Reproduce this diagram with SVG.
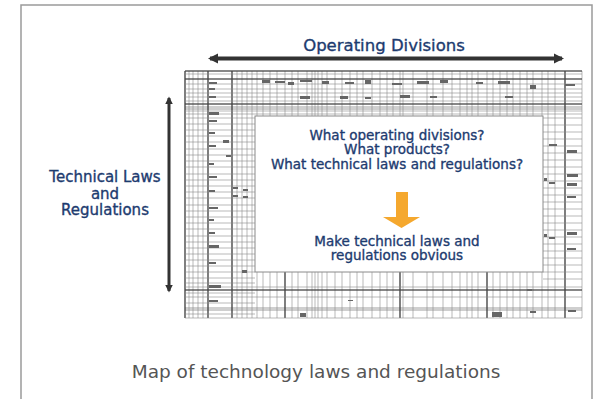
<svg xmlns="http://www.w3.org/2000/svg" width="612" height="399" viewBox="0 0 612 399">
<defs>
<style>
.navy{fill:#1d3b6f;stroke:#1d3b6f;stroke-width:0.35;font-family:"DejaVu Sans","Liberation Sans",sans-serif;text-anchor:middle}
.cap{fill:#555;font-family:"DejaVu Sans","Liberation Sans",sans-serif;text-anchor:middle;font-size:18.5px}
.g{stroke:#8a8a8a;stroke-width:0.6;fill:none}
.gk{stroke:#333;stroke-width:1.1;fill:none}
.bl{fill:#666}
.band{fill:#cfcfcf}
.arr{stroke:#333;fill:none}
</style>
<marker id="ah" viewBox="0 0 10 10" refX="8" refY="5" markerWidth="2.6" markerHeight="2.6" orient="auto-start-reverse" markerUnits="strokeWidth">
<path d="M0,0 L10,5 L0,10 z" fill="#333"/>
</marker>
</defs>
<rect x="0" y="0" width="612" height="399" fill="#fff"/>
<rect x="21" y="5" width="571" height="400" fill="#fff" stroke="#9a9a9a" stroke-width="1.5"/>

<g id="table">
<rect x="185" y="71" width="397" height="247" fill="#fff"/>
<rect class="band" x="185" y="106" width="397" height="4"/>
<rect class="band" x="185" y="307" width="397" height="4"/>
<path class="g" d="M185,71V318M189,71V318M193,71V318M198,71V318M203,71V318M208,71V318M232,71V318M237,71V318M242,71V318M247,71V318M252,71V318M257,71V318M263,71V318M270,71V318M277,71V318M285,71V318M292,71V318M298,71V318M307,71V318M312,71V318M315,71V318M318,71V318M322,71V318M327,71V318M335,71V318M342,71V318M350,71V318M357,71V318M363,71V318M372,71V318M380,71V318M387,71V318M393,71V318M400,71V318M403,71V318M413,71V318M427,71V318M433,71V318M443,71V318M452,71V318M460,71V318M467,71V318M472,71V318M478,71V318M487,71V318M493,71V318M500,71V318M507,71V318M513,71V318M520,71V318M527,71V318M533,71V318M542,71V318M548,71V318M555,71V318M565,71V318M582,71V318"/>
<path class="gk" d="M185,71V318M208,71V318M232,71V318M285,272V318M400,272V318M487,272V318M565,71V318"/>
<path class="g" d="M185,71H582M185,74H582M185,79H582M185,84H582M185,89H582M185,93H582M185,97H582M185,101H582M185,104H582M185,111H582M185,114H582M185,287H582M185,290H582M185,297H582M185,318H582"/>
<path class="gk" d="M185,71H582M185,79H582M185,104H582M185,290H582"/>
<path class="g" d="M185,118H255M185,124H255M185,130H255M185,136H255M185,142H255M185,149H255M185,155H255M185,161H255M185,167H255M185,174H255M185,180H255M185,186H255M185,192H255M185,198H255M185,205H255M185,211H255M185,217H255M185,223H255M185,229H255M185,236H255M185,242H255M185,248H255M185,254H255M185,260H255M185,266H255M185,272H255M185,278H255M185,283H255M185,293H255M185,303H255M185,314H255"/>
<path class="g" d="M543,118H582M543,125H582M543,132H582M543,139H582M543,146H582M543,153H582M543,160H582M543,167H582M543,174H582M543,181H582M543,188H582M543,195H582M543,202H582M543,209H582M543,216H582M543,223H582M543,230H582M543,237H582M543,244H582M543,251H582M543,258H582M543,265H582M543,272H582M543,279H582"/>
<g class="bl">
<rect x="262" y="80" width="8" height="3"/><rect x="275" y="81" width="10" height="2"/><rect x="288" y="82" width="6" height="3"/><rect x="300" y="80" width="12" height="2"/><rect x="322" y="81" width="7" height="3"/><rect x="345" y="82" width="9" height="2"/><rect x="365" y="80" width="6" height="4"/><rect x="392" y="83" width="10" height="2"/><rect x="417" y="81" width="12" height="3"/><rect x="440" y="80" width="8" height="3"/><rect x="476" y="82" width="7" height="2"/><rect x="498" y="81" width="12" height="3"/><rect x="530" y="85" width="6" height="4"/><rect x="565" y="84" width="10" height="2"/>
<rect x="300" y="96" width="10" height="3"/><rect x="340" y="96" width="8" height="3"/><rect x="365" y="97" width="6" height="2"/><rect x="400" y="95" width="10" height="3"/><rect x="430" y="96" width="7" height="2"/><rect x="505" y="96" width="8" height="2"/>
<rect x="209" y="82" width="8" height="2"/><rect x="209" y="88" width="6" height="2"/><rect x="209" y="96" width="7" height="2"/><rect x="209" y="112" width="10" height="3"/><rect x="209" y="120" width="8" height="2"/><rect x="209" y="132" width="6" height="2"/><rect x="209" y="145" width="7" height="2"/><rect x="209" y="163" width="5" height="2"/><rect x="209" y="176" width="8" height="2"/><rect x="209" y="190" width="6" height="2"/><rect x="209" y="207" width="9" height="2"/><rect x="209" y="219" width="5" height="2"/><rect x="209" y="232" width="6" height="2"/><rect x="209" y="245" width="10" height="3"/><rect x="209" y="262" width="7" height="2"/><rect x="209" y="285" width="12" height="3"/><rect x="209" y="300" width="9" height="2"/>
<rect x="223" y="140" width="6" height="3"/><rect x="226" y="155" width="5" height="2"/><rect x="233" y="187" width="5" height="2"/><rect x="243" y="189" width="5" height="2"/><rect x="233" y="195" width="5" height="2"/><rect x="243" y="196" width="5" height="2"/>
<rect x="549" y="144" width="8" height="2"/><rect x="567" y="150" width="10" height="3"/><rect x="567" y="174" width="11" height="3"/><rect x="567" y="183" width="10" height="3"/><rect x="567" y="196" width="9" height="2"/><rect x="549" y="182" width="6" height="2"/><rect x="567" y="232" width="10" height="3"/><rect x="567" y="248" width="9" height="2"/><rect x="549" y="237" width="6" height="2"/><rect x="544" y="234" width="3" height="3"/><rect x="544" y="178" width="3" height="3"/>
<rect x="300" y="313" width="6" height="4"/><rect x="348" y="300" width="5" height="1"/><rect x="492" y="312" width="10" height="5"/><rect x="530" y="311" width="6" height="2"/><rect x="568" y="310" width="8" height="2"/><rect x="242" y="270" width="5" height="3"/><rect x="527" y="289" width="5" height="2"/>
</g>
</g>

<g id="question-box">
<rect x="255" y="116" width="288" height="156" fill="#fff" stroke="#8a8a8a" stroke-width="1"/>
<text class="navy" font-size="13.5" x="397" y="139.5">What operating divisions?</text>
<text class="navy" font-size="13.5" x="397" y="154">What products?</text>
<text class="navy" font-size="13.5" x="397" y="168.5">What technical laws and regulations?</text>
<polygon points="396,192 408,192 408,217 420,217 401.5,228 383,217 396,217" fill="#f5a82e"/>
<text class="navy" font-size="13.5" x="397" y="245.5">Make technical laws and</text>
<text class="navy" font-size="13.5" x="397" y="260">regulations obvious</text>
</g>

<g id="operating-divisions">
<text class="navy" font-size="16.5" x="384" y="51">Operating Divisions</text>
</g>

<g id="technical-laws">
<text class="navy" font-size="15" x="105" y="181.5">Technical Laws</text>
<text class="navy" font-size="15" x="105" y="198.5">and</text>
<text class="navy" font-size="15" x="105" y="215">Regulations</text>
</g>

<g id="connectors">
<line class="arr" x1="210" y1="58.5" x2="562" y2="58.5" stroke-width="4" marker-start="url(#ah)" marker-end="url(#ah)"/>
<line class="arr" x1="169" y1="98" x2="169" y2="291" stroke-width="3" marker-start="url(#ah)" marker-end="url(#ah)"/>
</g>

<g id="caption">
<text class="cap" x="316" y="378">Map of technology laws and regulations</text>
</g>
</svg>
